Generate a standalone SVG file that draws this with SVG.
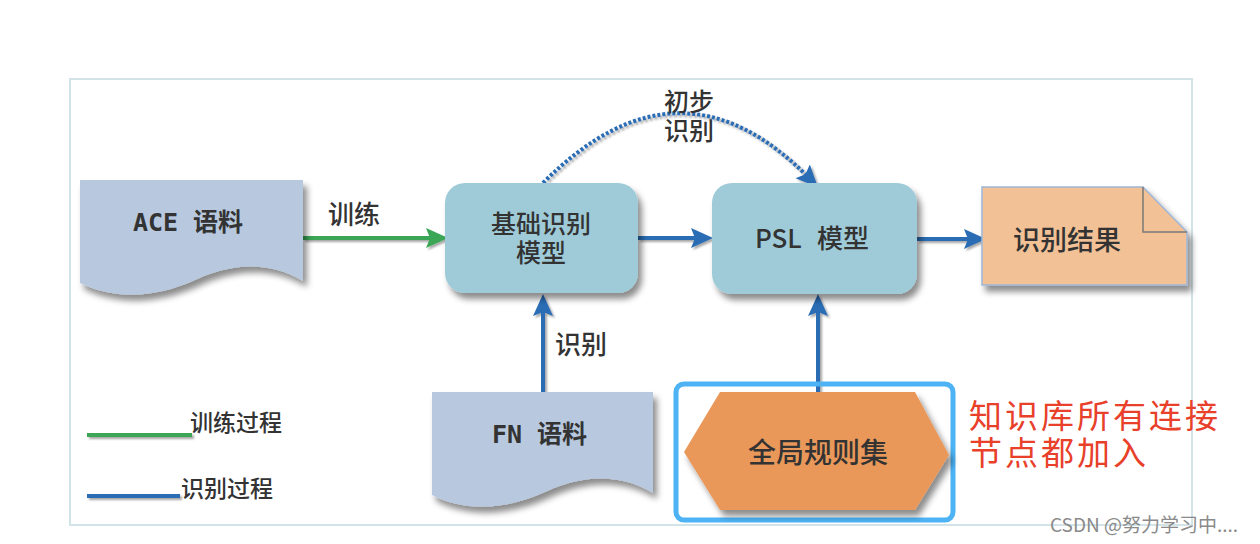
<svg xmlns="http://www.w3.org/2000/svg" width="1260" height="544" viewBox="0 0 1260 544">
  <style>
    .cn { font-family: "Noto Sans CJK SC", "Noto Sans", sans-serif; fill: #333; font-weight: 500; }
    .mono { font-family: "DejaVu Sans Mono", "Noto Sans CJK SC", monospace; fill: #333; font-weight: bold; }
    .box { fill: #9fcbd9; }
    .doc { fill: #b8c9df; }
    .blue { stroke: #2c6db5; stroke-width: 4; fill: none; }
    .green { stroke: #3aa655; stroke-width: 4; fill: none; }
    .red { font-family: "Noto Sans CJK SC", sans-serif; fill: #e8402a; font-size: 33px; letter-spacing: 3px; }
  </style>
  <defs>
    <filter id="sh" x="-10%" y="-10%" width="130%" height="140%">
      <feDropShadow dx="4" dy="6" stdDeviation="3" flood-color="#000" flood-opacity="0.45"/>
    </filter>
    <filter id="shl" filterUnits="userSpaceOnUse" x="0" y="0" width="1260" height="544">
      <feDropShadow dx="2" dy="2" stdDeviation="1" flood-color="#000" flood-opacity="0.35"/>
    </filter>
    <marker id="ab" markerUnits="userSpaceOnUse" markerWidth="24" markerHeight="22" refX="12" refY="10" orient="auto">
      <path d="M0,0 L22,10 L0,20 L4,10 Z" fill="#2c6db5"/>
    </marker>
    <marker id="ag" markerUnits="userSpaceOnUse" markerWidth="24" markerHeight="22" refX="12" refY="10" orient="auto">
      <path d="M0,0 L22,10 L0,20 L4,10 Z" fill="#3aa655"/>
    </marker>
  </defs>
  <rect width="1260" height="544" fill="#fff"/>
  <rect id="frame" x="70" y="79" width="1122" height="446" fill="none" stroke="#d2e4e8" stroke-width="2"/>

  <g id="connectors">
    <g filter="url(#shl)">
      <line class="green" x1="303" y1="238" x2="438" y2="238" marker-end="url(#ag)"/>
      <line class="blue" x1="638" y1="238" x2="703" y2="238" marker-end="url(#ab)"/>
      <line class="blue" x1="917" y1="239" x2="976" y2="239" marker-end="url(#ab)"/>
      <line class="blue" x1="543" y1="392" x2="543" y2="304" marker-end="url(#ab)"/>
      <line class="blue" x1="818" y1="392" x2="818" y2="304" marker-end="url(#ab)"/>
      <path class="blue" d="M543,183 Q680,45 811,180" stroke-dasharray="3 2" marker-end="url(#ab)"/>
    </g>
    <text class="cn" x="354" y="224" font-size="26" text-anchor="middle">训练</text>
    <text class="cn" x="689" y="111" font-size="25" text-anchor="middle" fill="#444">初步</text>
    <text class="cn" x="689" y="140" font-size="25" text-anchor="middle" fill="#444">识别</text>
    <text class="cn" x="581" y="354" font-size="26" text-anchor="middle">识别</text>
  </g>

  <g id="ace">
    <path class="doc" filter="url(#sh)" d="M80,180 H303 V281 C270,262 235,262 195,280 C155,298 115,300 80,283 Z"/>
    <text class="mono" y="231" font-size="25"><tspan x="133">ACE</tspan><tspan x="193">语料</tspan></text>
  </g>

  <g id="base-model">
    <rect class="box" filter="url(#sh)" x="445" y="183" width="193" height="110" rx="20"/>
    <text class="cn" x="541" y="233" font-size="25" text-anchor="middle">基础识别</text>
    <text class="cn" x="541" y="262" font-size="25" text-anchor="middle">模型</text>
  </g>

  <g id="psl-model">
    <rect class="box" filter="url(#sh)" x="712" y="183" width="205" height="111" rx="20"/>
    <text class="cn" y="248" font-size="26"><tspan x="755">PSL</tspan><tspan x="817">模型</tspan></text>
  </g>

  <g id="result">
    <path filter="url(#sh)" d="M982,187 H1143 L1187,232 V285 H982 Z" fill="#f2c196" stroke="#9fb6d6" stroke-width="1.5"/>
    <path d="M1143,187 V232 H1187" fill="none" stroke="#7a7a7a" stroke-width="1.5"/>
    <text class="cn" x="1067" y="250" font-size="27" text-anchor="middle">识别结果</text>
  </g>

  <g id="fn">
    <path class="doc" filter="url(#sh)" d="M432,392 H653 V493 C620,474 585,474 545,492 C505,510 465,512 432,495 Z"/>
    <text class="mono" y="443" font-size="25"><tspan x="492">FN</tspan><tspan x="537">语料</tspan></text>
  </g>

  <g id="rules">
    <rect x="676" y="384" width="277" height="136" rx="8" fill="none" stroke="#4db3f5" stroke-width="5"/>
    <polygon filter="url(#sh)" points="684,452 720,392 915,392 949,455 915,510 720,510" fill="#e9985a"/>
    <text class="cn" x="818" y="463" font-size="28" text-anchor="middle">全局规则集</text>
  </g>

  <g id="note">
    <text class="red" x="969" y="428">知识库所有连接</text>
    <text class="red" x="969" y="465">节点都加入</text>
  </g>

  <g id="legend">
    <line class="green" x1="87" y1="435" x2="192" y2="435" filter="url(#shl)"/>
    <text class="cn" x="190" y="431" font-size="23">训练过程</text>
    <line class="blue" x1="87" y1="496" x2="180" y2="496" filter="url(#shl)"/>
    <text class="cn" x="181" y="497" font-size="23">识别过程</text>
  </g>

  <text x="1050" y="532" font-size="19" fill="#8a8a8a" font-family="Noto Sans CJK SC, sans-serif">CSDN @努力学习中....</text>
</svg>
